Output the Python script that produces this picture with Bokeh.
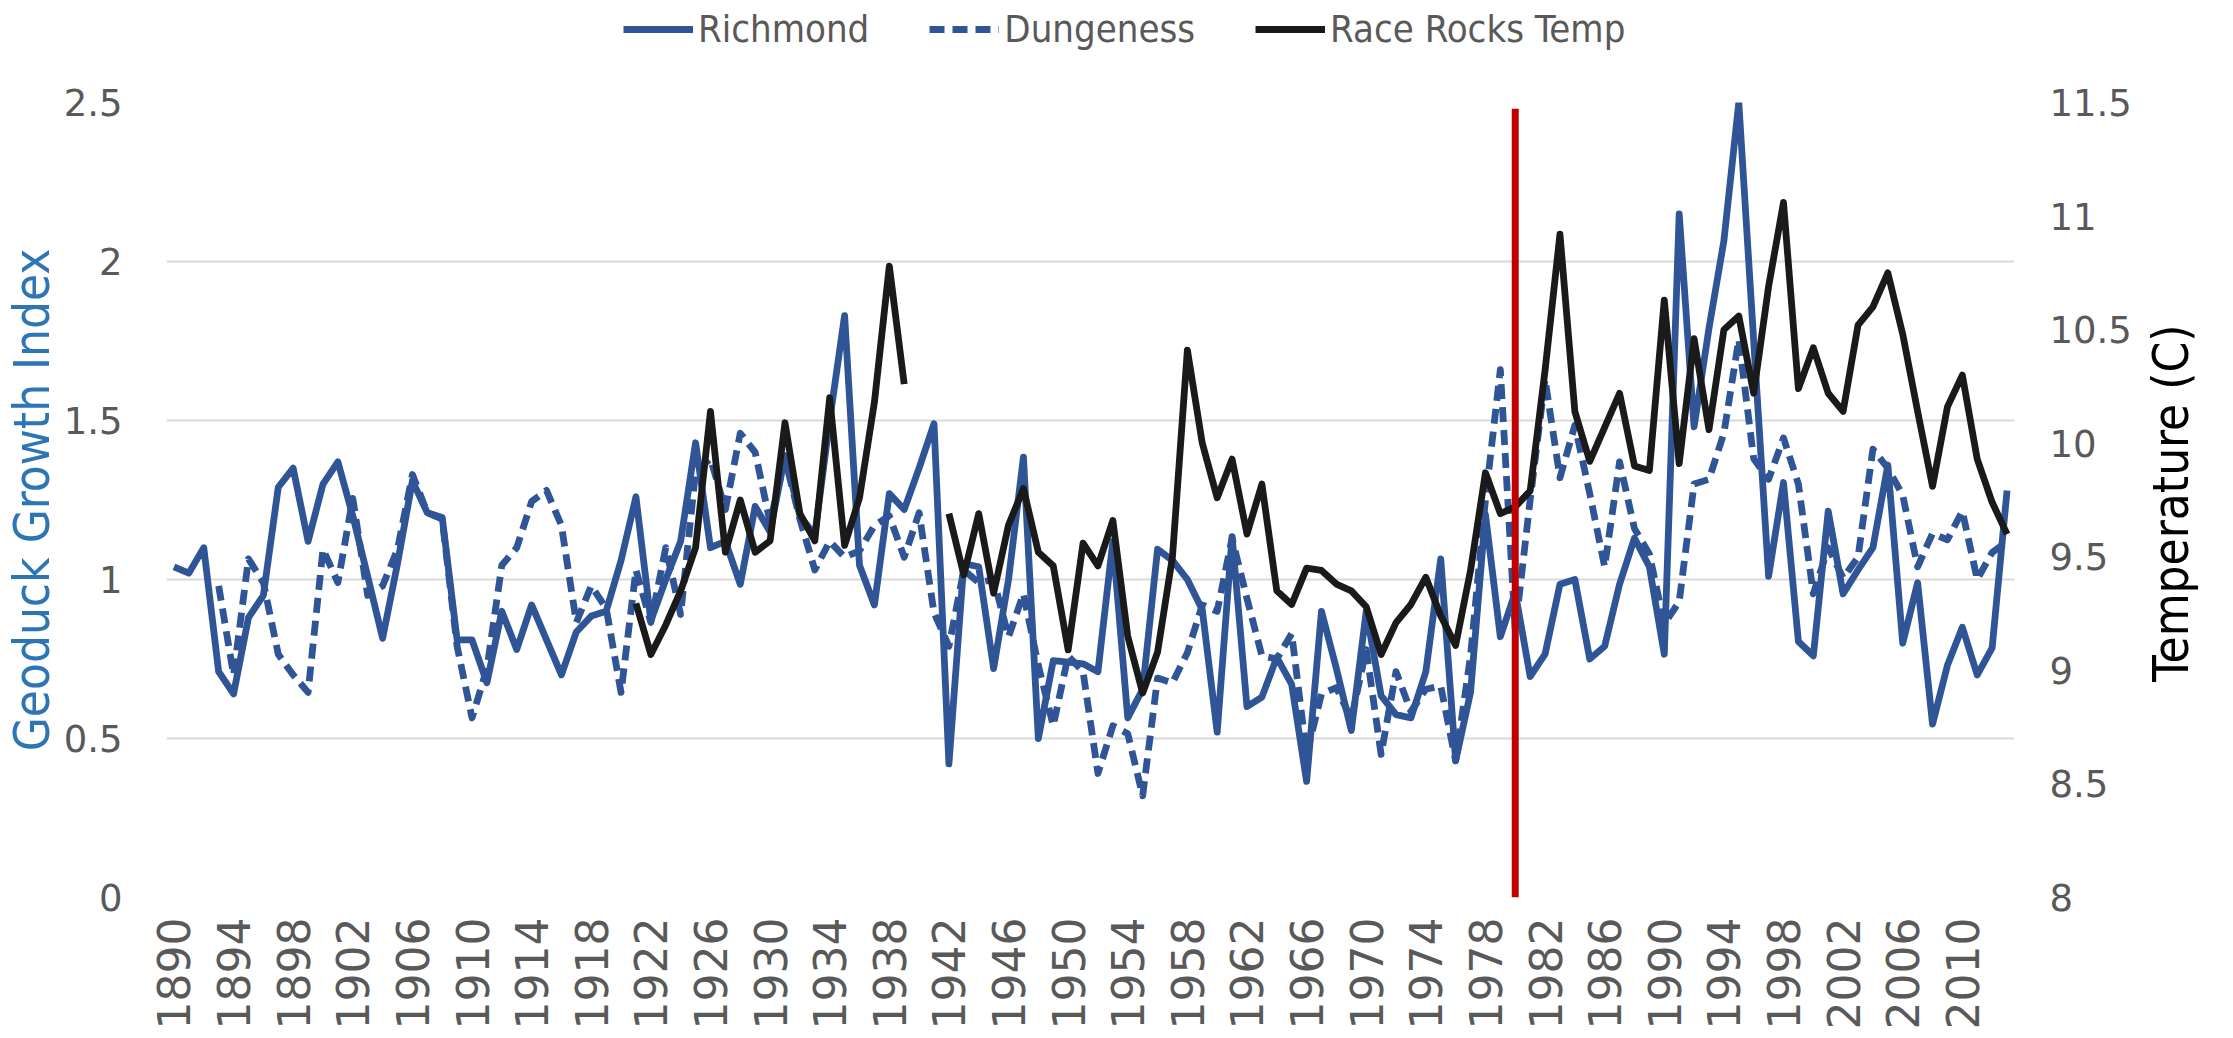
import math
from bokeh.plotting import figure
from bokeh.layouts import column, row
from bokeh.models import (Range1d, LinearAxis, FixedTicker, Legend, LegendItem)
from bokeh.core.properties import value
from bokeh.embed import file_html
from bokeh.resources import INLINE

# ---------------- data ----------------
years = list(range(1890, 2014))

richmond = [1.04, 1.02, 1.10, 0.71, 0.64, 0.88, 0.95, 1.29, 1.35, 1.12,
            1.30, 1.37, 1.20, 1.01, 0.815, 1.05, 1.31, 1.21, 1.195, 0.81,
            0.81, 0.675, 0.90, 0.78, 0.92, 0.81, 0.70, 0.835, 0.885, 0.90,
            1.06, 1.26, 0.87, 1.00, 1.12, 1.43, 1.10, 1.12, 0.985, 1.23,
            1.15, 1.39, 1.20, 1.14, 1.50, 1.83, 1.045, 0.92, 1.27, 1.22,
            1.35, 1.49, 0.42, 1.05, 1.04, 0.72, 1.00, 1.385, 0.50, 0.745,
            0.74, 0.735, 0.71, 1.12, 0.565, 0.655, 1.095, 1.06, 1.00, 0.905,
            0.52, 1.135, 0.60, 0.63, 0.755, 0.67, 0.365, 0.90, 0.72, 0.525,
            0.90, 0.635, 0.575, 0.565, 0.71, 1.065, 0.43, 0.645, 1.205, 0.82,
            0.96, 0.695, 0.765, 0.985, 1.00, 0.75, 0.79, 0.985, 1.13, 1.04,
            0.765, 2.15, 1.48, 1.79, 2.065, 2.50, 1.75, 1.01, 1.305, 0.805,
            0.76, 1.215, 0.955, 1.03, 1.10, 1.36, 0.80, 0.99, 0.545, 0.73,
            0.85, 0.70, 0.785, 1.28]

dungeness = [None, None, None, 0.98, 0.70, 1.065, 0.99, 0.765, 0.70, 0.645,
             1.095, 0.99, 1.255, 0.95, 0.98, 1.095, 1.33, 1.21, 1.19, 0.79,
             0.565, 0.72, 1.045, 1.10, 1.245, 1.28, 1.17, 0.865, 0.98, 0.91,
             0.645, 1.03, 0.865, 1.10, 0.89, 1.34, 1.38, 1.22, 1.46, 1.40,
             1.18, 1.38, 1.19, 1.03, 1.12, 1.07, 1.09, 1.17, 1.20, 1.07,
             1.21, 0.895, 0.79, 1.03, 0.99, 1.00, 0.82, 0.955, 0.73, 0.54,
             0.76, 0.71, 0.39, 0.54, 0.515, 0.32, 0.69, 0.675, 0.77, 0.92,
             0.90, 1.13, 0.94, 0.76, 0.75, 0.83, 0.45, 0.64, 0.66, 0.56,
             0.78, 0.45, 0.71, 0.585, 0.655, 0.665, 0.43, 0.76, 1.25, 1.66,
             0.84, 1.25, 1.63, 1.32, 1.485, 1.27, 1.04, 1.37, 1.16, 1.08,
             0.86, 0.93, 1.30, 1.315, 1.46, 1.755, 1.38, 1.315, 1.445, 1.30,
             0.955, 1.10, 1.005, 1.07, 1.41, 1.35, 1.265, 1.04, 1.145, 1.125,
             1.215, 1.00, 1.085, 1.12]

race_rocks = [None] * 31 + [
    9.295, 9.07, 9.20, 9.35, 9.54, 10.14, 9.52, 9.75, 9.52,
    9.57, 10.09, 9.69, 9.57, 10.20, 9.55, 9.76, 10.18, 10.78, 10.26,
    None, None, 9.69, 9.42, 9.69, 9.34, 9.64, 9.80, 9.52, 9.46,
    9.09, 9.56, 9.46, 9.66, 9.15, 8.90, 9.08, 9.50, 10.41, 10.00,
    9.76, 9.93, 9.60, 9.82, 9.35, 9.29, 9.45, 9.44, 9.38, 9.35,
    9.28, 9.07, 9.21, 9.29, 9.41, 9.24, 9.11, 9.44, 9.87, 9.69,
    9.72, 9.79, 10.32, 10.92, 10.14, 9.92, 10.07, 10.22, 9.90, 9.88,
    10.63, 9.91, 10.46, 10.06, 10.50, 10.56, 10.22, 10.69, 11.06, 10.24,
    10.42, 10.22, 10.14, 10.52, 10.60, 10.75, 10.48, 10.14, 9.81, 10.16,
    10.30, 9.93, 9.74, 9.60]

marker_year = [1980]
marker_bottom = [0.0]
marker_top = [2.48]

tick_years = list(range(1890, 2011, 4))
left_ticks = [0, 0.5, 1, 1.5, 2, 2.5]
left_tick_labels = ["0", "0.5", "1", "1.5", "2", "2.5"]
right_ticks = [8, 8.5, 9, 9.5, 10, 10.5, 11, 11.5]
right_tick_labels = ["8", "8.5", "9", "9.5", "10", "10.5", "11", "11.5"]
series_names = ["Richmond", "Dungeness", "Race Rocks Temp"]
left_title = "Geoduck Growth Index"
right_title = "Temperature (C)"


def nanify(vals):
    return [float("nan") if v is None else v for v in vals]


# ---------------- styling ----------------
BLUE = "#2F5597"
BLACK = "#1A1A1A"
RED = "#C00000"
GRID = "#D9D9D9"
TICK = "#595959"
NUM_FONT = "DejaVu Sans"
NARROW = "'Liberation Sans Narrow', 'DejaVu Sans Condensed', 'Arial Narrow', sans-serif"
LW = 6.8
DASH = "15 8"

TOTAL_W = 2217
LEG_H = 72
TITLE_W = 80
MAIN_W = TOTAL_W - TITLE_W
B_LEFT, B_TOP, B_BOTTOM = 160, 30, 128
FRAME_W, FRAME_H = 1854, 802
B_RIGHT = MAIN_W - B_LEFT - FRAME_W
MAIN_H = B_TOP + FRAME_H + B_BOTTOM
TITLE_SHIFT = 53

# ---------------- main chart ----------------
p = figure(width=MAIN_W, height=MAIN_H, output_backend="svg", toolbar_location=None,
           x_range=Range1d(1889.5, 2013.5), y_range=Range1d(0, 2.5),
           min_border_left=B_LEFT, min_border_right=B_RIGHT,
           min_border_top=B_TOP, min_border_bottom=B_BOTTOM)
p.extra_y_ranges = {"temp": Range1d(8, 11.5)}
p.outline_line_color = None
p.background_fill_color = "white"
p.border_fill_color = "white"

xa = p.xaxis[0]
xa.ticker = FixedTicker(ticks=tick_years)
xa.major_label_orientation = math.pi / 2
xa.major_label_text_font = NUM_FONT
xa.major_label_text_font_size = "44px"
xa.major_label_text_color = TICK
xa.major_label_standoff = 14
xa.major_tick_line_color = None
xa.minor_tick_line_color = None
xa.axis_line_color = None

ya = p.yaxis[0]
ya.ticker = FixedTicker(ticks=left_ticks)
ya.major_label_overrides = {t: l for t, l in zip(left_ticks, left_tick_labels)}
ya.major_label_text_font = NUM_FONT
ya.major_label_text_font_size = "37px"
ya.major_label_text_color = TICK
ya.major_label_standoff = 38
ya.major_tick_line_color = None
ya.minor_tick_line_color = None
ya.axis_line_color = None
ya.axis_label = left_title
ya.axis_label_text_font = NARROW
ya.axis_label_text_font_style = "normal"
ya.axis_label_text_font_size = "49px"
ya.axis_label_text_color = "#2E75B6"
ya.axis_label_standoff = 0

ra = LinearAxis(y_range_name="temp")
ra.ticker = FixedTicker(ticks=right_ticks)
ra.major_label_overrides = {t: l for t, l in zip(right_ticks, right_tick_labels)}
ra.major_label_text_font = NUM_FONT
ra.major_label_text_font_size = "37px"
ra.major_label_text_color = TICK
ra.major_label_standoff = 29
ra.major_tick_line_color = None
ra.minor_tick_line_color = None
ra.axis_line_color = None
p.add_layout(ra, "right")

p.xgrid.grid_line_color = None
p.ygrid.grid_line_color = GRID
p.ygrid.grid_line_width = 2
p.ygrid.ticker = FixedTicker(ticks=left_ticks)

p.line(years, nanify(richmond), line_color=BLUE, line_width=LW, line_join="round")
p.line(years, nanify(dungeness), line_color=BLUE, line_width=LW,
       line_dash=DASH, line_join="round")
p.line(years, nanify(race_rocks), line_color=BLACK, line_width=LW,
       line_join="round", y_range_name="temp")
p.segment(x0=marker_year, y0=marker_bottom, x1=marker_year, y1=marker_top,
          line_color=RED, line_width=7)

# ---------------- legend strip (top) ----------------
# key lines reuse the series, but the strip's ranges keep them out of view
lg = figure(width=TOTAL_W, height=LEG_H, output_backend="svg", toolbar_location=None,
            x_range=Range1d(0, 1), y_range=Range1d(0, 1),
            x_axis_location=None, y_axis_location=None,
            min_border_left=0, min_border_right=0, min_border_top=0, min_border_bottom=0)
lg.outline_line_color = None
lg.grid.visible = False
k1 = lg.line(years, nanify(richmond), line_color=BLUE, line_width=LW)
k2 = lg.line(years, nanify(dungeness), line_color=BLUE, line_width=LW, line_dash=DASH)
k3 = lg.line(years, nanify(race_rocks), line_color=BLACK, line_width=LW)
legend = Legend(items=[LegendItem(label=n, renderers=[r])
                       for n, r in zip(series_names, [k1, k2, k3])],
                orientation="horizontal", location=(623, 21))
legend.label_text_font = NARROW
legend.label_text_font_size = "38px"
legend.label_text_line_height = 1.0
legend.label_text_color = TICK
legend.glyph_width = 70
legend.glyph_height = 20
legend.label_height = 20
legend.label_standoff = 5
legend.spacing = 60
legend.padding = 0
legend.margin = 0
legend.border_line_color = None
legend.background_fill_alpha = 0
lg.add_layout(legend, "center")

# ---------------- right title strip ----------------
tf = figure(width=TITLE_W, height=MAIN_H, output_backend="svg", toolbar_location=None,
            x_range=Range1d(0, TITLE_W), y_range=Range1d(0, MAIN_H),
            x_axis_location=None, y_axis_location=None,
            min_border_left=0, min_border_right=0, min_border_top=0, min_border_bottom=0)
tf.outline_line_color = None
tf.grid.visible = False
tf.text(x=[34], y=[MAIN_H - B_TOP - FRAME_H / 2 - TITLE_SHIFT], text=[right_title],
        angle=math.pi / 2, text_align="center", text_baseline="middle",
        text_font=value(NARROW), text_font_size=value("49px"),
        text_color="#000000")

layout = column(lg, row(p, tf))
open("out.html", "w").write(file_html(layout, INLINE))
